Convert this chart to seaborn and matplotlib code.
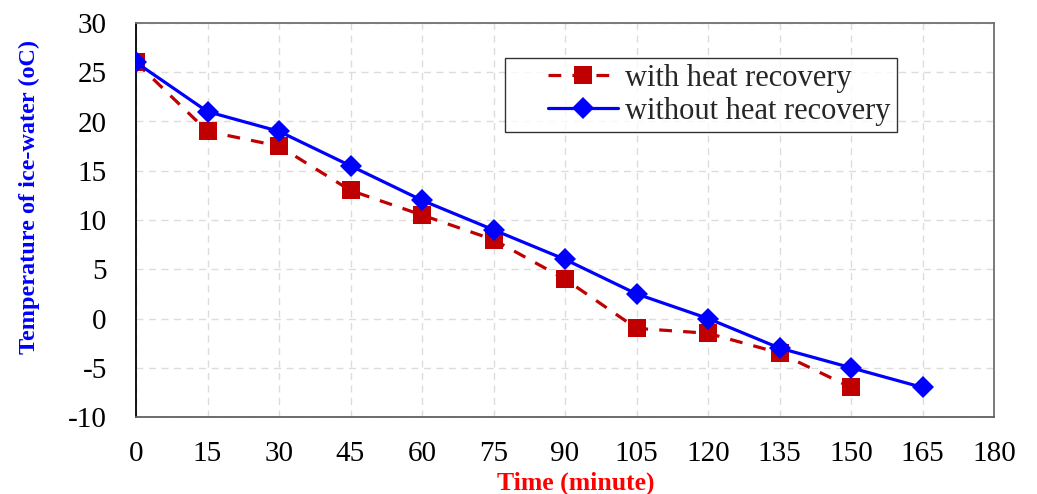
import matplotlib
matplotlib.use("Agg")
import matplotlib.pyplot as plt
from matplotlib.legend_handler import HandlerLine2D
import seaborn as sns
import pandas as pd

time_with = [0, 15, 30, 45, 60, 75, 90, 105, 120, 135, 150]
temp_with = [26, 19, 17.5, 13, 10.5, 8, 4, -1, -1.5, -3.5, -7]
time_without = [0, 15, 30, 45, 60, 75, 90, 105, 120, 135, 150, 165]
temp_without = [26, 21, 19, 15.5, 12, 9, 6, 2.5, 0, -3, -5, -7]
x_ticks = list(range(0, 181, 15))
y_ticks = list(range(-10, 31, 5))

sns.set_theme(style="white")
plt.rcParams['font.family'] = ['Liberation Serif', 'DejaVu Serif']
plt.rcParams['axes.unicode_minus'] = False

df_with = pd.DataFrame({"t": time_with, "T": temp_with})
df_without = pd.DataFrame({"t": time_without, "T": temp_without})

fig = plt.figure(figsize=(10.37, 4.94), dpi=100)
ax = fig.add_axes([136/1037, 1 - 417/494, (994-136)/1037, (417-23)/494])

sns.lineplot(data=df_with, x="t", y="T", ax=ax, color="#C00000", linestyle=(0, (4, 3.5)),
             linewidth=2.3, marker="s", markersize=13, markeredgewidth=0,
             label="with heat recovery", zorder=3)
sns.lineplot(data=df_without, x="t", y="T", ax=ax, color="#0000FF", linestyle="-",
             linewidth=2.3, marker="D", markersize=11.5, markeredgewidth=0,
             label="without heat recovery", zorder=4)

ax.set_xlim(0, 180)
ax.set_ylim(-10, 30)
ax.set_xticks(x_ticks)
ax.set_yticks(y_ticks)
ax.tick_params(axis="x", length=0, labelsize=21, colors="black", pad=17)
ax.tick_params(axis="y", length=0, labelsize=21, colors="black", pad=21)
ax.grid(True, color="#dcdcdc", linestyle=(0, (5, 4)), linewidth=1)
for s in ax.spines.values():
    s.set_color("#707070")
    s.set_linewidth(1.3)
ax.spines["left"].set_color("black")
ax.spines["bottom"].set_color("#606060")

ax.set_xlabel("Time (minute)", color="#FF0000", fontsize=18.5, fontweight="bold")
ax.xaxis.set_label_coords((576-136)/858, (417-472)/394)
ax.set_ylabel("Temperature of ice-water (oC)", color="#0000FF", fontsize=17.5, fontweight="bold")
ax.yaxis.set_label_coords((40-136)/858, (417-197)/394)

handles, labels = ax.get_legend_handles_labels()
leg = ax.legend(handles, labels, loc="upper left",
                bbox_to_anchor=((505-136)/858, 1 - (58-23)/394),
                fontsize=22, frameon=True, fancybox=False, edgecolor="black",
                handlelength=3.5, borderpad=0.2, labelspacing=0.12, handletextpad=0.23,
                borderaxespad=0,
                handler_map={h: HandlerLine2D(xpad=1.2) for h in handles})
leg.get_frame().set_linewidth(1.0)

fig.savefig("out.png", dpi=100)
